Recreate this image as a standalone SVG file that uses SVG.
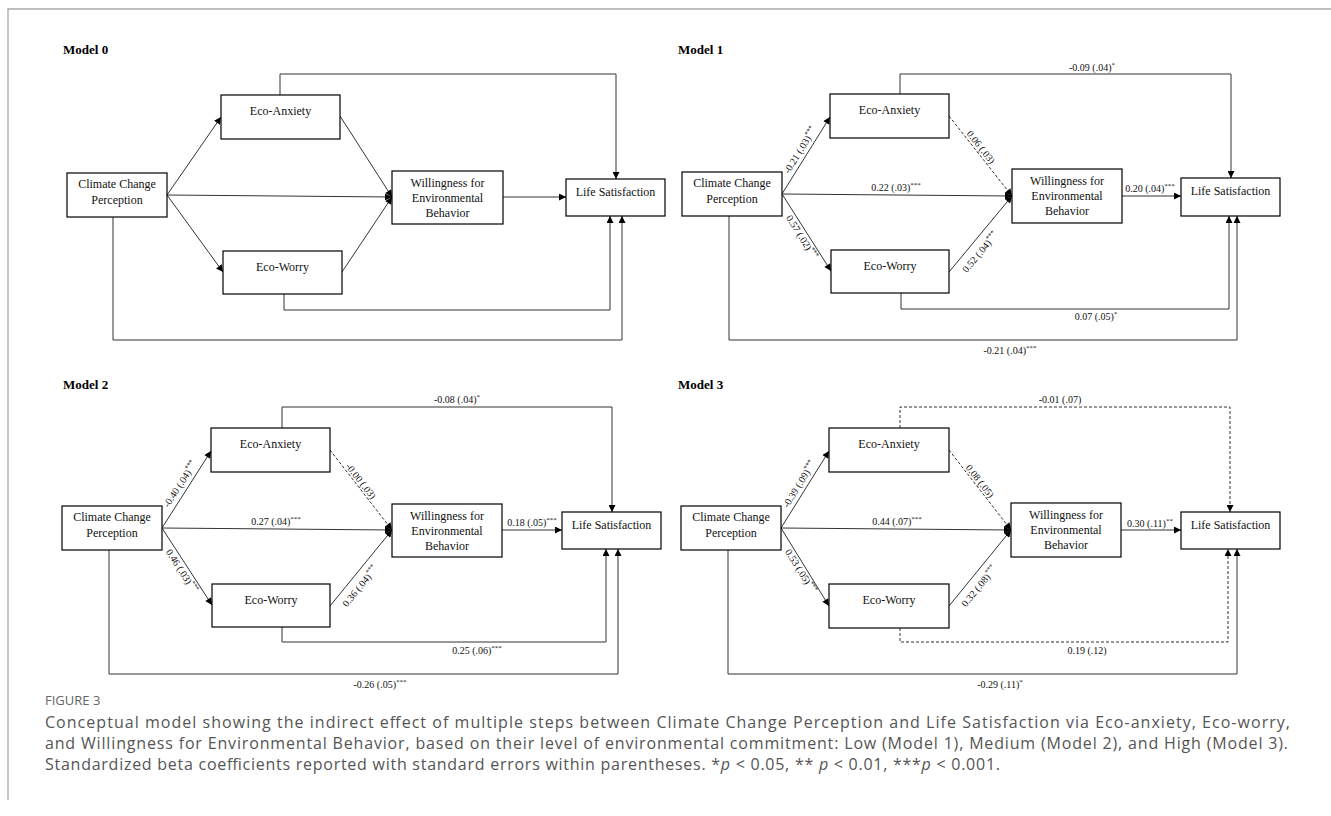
<svg xmlns="http://www.w3.org/2000/svg" width="1331" height="816" viewBox="0 0 1331 816">
<defs>
<marker id="ah" markerUnits="userSpaceOnUse" viewBox="0 0 10 10" refX="10" refY="5" markerWidth="8" markerHeight="7" orient="auto"><path d="M0,0 L10,5 L0,10 z" fill="#000"/></marker>
<style>
.box{fill:#fff;stroke:#000;stroke-width:1.2}
.n{font-family:"Liberation Serif","Times New Roman",serif;font-size:12px;fill:#111;text-anchor:middle}
.e{fill:none;stroke:#333;stroke-width:1}
.a{marker-end:url(#ah)}
.d{stroke-dasharray:3 2}
.l{font-family:"Liberation Serif","Times New Roman",serif;font-size:10px;fill:#111;text-anchor:middle}
.s{font-size:7px}
.t{font-family:"Liberation Serif","Times New Roman",serif;font-size:13px;font-weight:bold;fill:#000}
.cap{font-family:"Open Sans","Noto Sans",sans-serif;font-size:16px;fill:#555}
.fig{font-family:"Open Sans","Noto Sans",sans-serif;font-size:13px;fill:#666}
</style>
</defs>
<rect width="1331" height="816" fill="#fff"/>
<path d="M8,800 V9 H1331" fill="none" stroke="#aaa" stroke-width="1.3"/>

<text class="t" x="63" y="54">Model 0</text>
<text class="t" x="678" y="54">Model 1</text>
<text class="t" x="63" y="389">Model 2</text>
<text class="t" x="678" y="389">Model 3</text>

<g id="connectors">
<!-- Model 0 -->
<path class="e a" d="M167,195 L221,117"/>
<path class="e a" d="M167,195 L223,272"/>
<path class="e a" d="M167,195 L392,197"/>
<path class="e a" d="M340,116 L392,197"/>
<path class="e a" d="M342,272 L392,197"/>
<path class="e a" d="M503,197 L566,197"/>
<path class="e a" d="M280,95 V74 H616 V179"/>
<path class="e a" d="M284,294 V310 H610 V216"/>
<path class="e a" d="M113,217 V340 H622 V216"/>
<!-- Model 1 -->
<path class="e a" d="M782,194 L830,117"/>
<path class="e a" d="M782,194 L831,271"/>
<path class="e a" d="M782,194 L1012,196"/>
<path class="e a d" d="M949,116 L1012,196"/>
<path class="e a" d="M949,272 L1012,196"/>
<path class="e a" d="M1122,196 L1181,196"/>
<path class="e a" d="M900,94 V74 H1231 V178"/>
<path class="e a" d="M901,293 V309 H1229 V216"/>
<path class="e a" d="M729,216 V340 H1237 V216"/>
<!-- Model 2 -->
<path class="e a" d="M162,528 L211,451"/>
<path class="e a" d="M162,528 L212,605"/>
<path class="e a" d="M162,528 L392,530"/>
<path class="e a d" d="M330,450 L392,530"/>
<path class="e a" d="M330,606 L392,530"/>
<path class="e a" d="M502,530 L562,530"/>
<path class="e a" d="M282,428 V407 H612 V512"/>
<path class="e a" d="M282,627 V642 H606 V549"/>
<path class="e a" d="M109,550 V674 H618 V549"/>
<!-- Model 3 -->
<path class="e a" d="M781,528 L829,451"/>
<path class="e a" d="M781,528 L829,606"/>
<path class="e a" d="M781,528 L1011,530"/>
<path class="e a d" d="M949,450 L1011,530"/>
<path class="e a" d="M949,606 L1011,530"/>
<path class="e a" d="M1121,530 L1181,530"/>
<path class="e a d" d="M900,428 V407 H1230 V512"/>
<path class="e a d" d="M900,628 V642 H1228 V549"/>
<path class="e a" d="M728,550 V674 H1237 V549"/>
</g>

<g id="labels">
<!-- Model 1 -->
<text class="l" transform="translate(800,150) rotate(-58)" dy="0.35em">-0.21 (.03)<tspan class="s" dy="-4">***</tspan></text>
<text class="l" transform="translate(981,147) rotate(52)" dy="0.35em">0.06 (.03)</text>
<text class="l" transform="translate(802,237) rotate(58)" dy="0.35em">0.57 (.02)<tspan class="s" dy="-4">***</tspan></text>
<text class="l" transform="translate(980,252) rotate(-50)" dy="0.35em">0.52 (.04)<tspan class="s" dy="-4">***</tspan></text>
<text class="l" x="1092" y="71">-0.09 (.04)<tspan class="s" dy="-4">*</tspan></text>
<text class="l" x="896" y="191">0.22 (.03)<tspan class="s" dy="-4">***</tspan></text>
<text class="l" x="1150" y="192">0.20 (.04)<tspan class="s" dy="-4">***</tspan></text>
<text class="l" x="1096" y="320">0.07 (.05)<tspan class="s" dy="-4">*</tspan></text>
<text class="l" x="1010" y="354">-0.21 (.04)<tspan class="s" dy="-4">***</tspan></text>
<!-- Model 2 -->
<text class="l" transform="translate(180,484) rotate(-57)" dy="0.35em">-0.40 (.04)<tspan class="s" dy="-4">***</tspan></text>
<text class="l" transform="translate(361,481) rotate(52)" dy="0.35em">-0.00 (.03)</text>
<text class="l" transform="translate(182,571) rotate(57)" dy="0.35em">0.46 (.03)<tspan class="s" dy="-4">***</tspan></text>
<text class="l" transform="translate(360,586) rotate(-51)" dy="0.35em">0.36 (.04)<tspan class="s" dy="-4">***</tspan></text>
<text class="l" x="457" y="403">-0.08 (.04)<tspan class="s" dy="-4">*</tspan></text>
<text class="l" x="276" y="525">0.27 (.04)<tspan class="s" dy="-4">***</tspan></text>
<text class="l" x="532" y="526">0.18 (.05)<tspan class="s" dy="-4">***</tspan></text>
<text class="l" x="477" y="654">0.25 (.06)<tspan class="s" dy="-4">***</tspan></text>
<text class="l" x="380" y="688">-0.26 (.05)<tspan class="s" dy="-4">***</tspan></text>
<!-- Model 3 -->
<text class="l" transform="translate(799,484) rotate(-58)" dy="0.35em">-0.39 (.09)<tspan class="s" dy="-4">***</tspan></text>
<text class="l" transform="translate(980,481) rotate(52)" dy="0.35em">0.08 (.05)</text>
<text class="l" transform="translate(801,571) rotate(58)" dy="0.35em">0.53 (.05)<tspan class="s" dy="-4">***</tspan></text>
<text class="l" transform="translate(979,586) rotate(-51)" dy="0.35em">0.32 (.08)<tspan class="s" dy="-4">***</tspan></text>
<text class="l" x="1060" y="403">-0.01 (.07)</text>
<text class="l" x="897" y="525">0.44 (.07)<tspan class="s" dy="-4">***</tspan></text>
<text class="l" x="1150" y="527">0.30 (.11)<tspan class="s" dy="-4">**</tspan></text>
<text class="l" x="1087" y="654">0.19 (.12)</text>
<text class="l" x="1000" y="688">-0.29 (.11)<tspan class="s" dy="-4">*</tspan></text>
</g>

<!-- Model 0 nodes -->
<g id="m0-ccp"><rect class="box" x="67" y="173" width="100" height="44"/><text class="n" x="117" y="188">Climate Change</text><text class="n" x="117" y="204">Perception</text></g>
<g id="m0-ea"><rect class="box" x="221" y="95" width="119" height="44"/><text class="n" x="280.5" y="115">Eco-Anxiety</text></g>
<g id="m0-ew"><rect class="box" x="223" y="251" width="119" height="43"/><text class="n" x="282.5" y="271">Eco-Worry</text></g>
<g id="m0-will"><rect class="box" x="392" y="171" width="111" height="53"/><text class="n" x="447.5" y="187">Willingness for</text><text class="n" x="447.5" y="202">Environmental</text><text class="n" x="447.5" y="217">Behavior</text></g>
<g id="m0-ls"><rect class="box" x="566" y="179" width="99" height="37"/><text class="n" x="615.5" y="196">Life Satisfaction</text></g>

<!-- Model 1 nodes -->
<g id="m1-ccp"><rect class="box" x="682" y="172" width="100" height="44"/><text class="n" x="732" y="187">Climate Change</text><text class="n" x="732" y="203">Perception</text></g>
<g id="m1-ea"><rect class="box" x="830" y="94" width="119" height="44"/><text class="n" x="889.5" y="114">Eco-Anxiety</text></g>
<g id="m1-ew"><rect class="box" x="831" y="250" width="118" height="43"/><text class="n" x="890" y="270">Eco-Worry</text></g>
<g id="m1-will"><rect class="box" x="1012" y="169" width="110" height="54"/><text class="n" x="1067" y="185">Willingness for</text><text class="n" x="1067" y="200">Environmental</text><text class="n" x="1067" y="215">Behavior</text></g>
<g id="m1-ls"><rect class="box" x="1181" y="178" width="99" height="38"/><text class="n" x="1230.5" y="195">Life Satisfaction</text></g>

<!-- Model 2 nodes -->
<g id="m2-ccp"><rect class="box" x="62" y="506" width="100" height="44"/><text class="n" x="112" y="521">Climate Change</text><text class="n" x="112" y="537">Perception</text></g>
<g id="m2-ea"><rect class="box" x="211" y="428" width="119" height="44"/><text class="n" x="270.5" y="448">Eco-Anxiety</text></g>
<g id="m2-ew"><rect class="box" x="212" y="584" width="118" height="43"/><text class="n" x="271" y="604">Eco-Worry</text></g>
<g id="m2-will"><rect class="box" x="392" y="504" width="110" height="53"/><text class="n" x="447" y="520">Willingness for</text><text class="n" x="447" y="535">Environmental</text><text class="n" x="447" y="550">Behavior</text></g>
<g id="m2-ls"><rect class="box" x="562" y="512" width="99" height="37"/><text class="n" x="611.5" y="529">Life Satisfaction</text></g>

<!-- Model 3 nodes -->
<g id="m3-ccp"><rect class="box" x="681" y="506" width="100" height="44"/><text class="n" x="731" y="521">Climate Change</text><text class="n" x="731" y="537">Perception</text></g>
<g id="m3-ea"><rect class="box" x="829" y="428" width="120" height="44"/><text class="n" x="889" y="448">Eco-Anxiety</text></g>
<g id="m3-ew"><rect class="box" x="829" y="584" width="120" height="44"/><text class="n" x="889" y="604">Eco-Worry</text></g>
<g id="m3-will"><rect class="box" x="1011" y="503" width="110" height="54"/><text class="n" x="1066" y="519">Willingness for</text><text class="n" x="1066" y="534">Environmental</text><text class="n" x="1066" y="549">Behavior</text></g>
<g id="m3-ls"><rect class="box" x="1181" y="512" width="99" height="37"/><text class="n" x="1230.5" y="529">Life Satisfaction</text></g>

<g id="caption">
<text class="fig" x="45" y="705">FIGURE 3</text>
<text class="cap" x="45" y="728" textLength="1245" lengthAdjust="spacing">Conceptual model showing the indirect effect of multiple steps between Climate Change Perception and Life Satisfaction via Eco-anxiety, Eco-worry,</text>
<text class="cap" x="45" y="749" textLength="1243" lengthAdjust="spacing">and Willingness for Environmental Behavior, based on their level of environmental commitment: Low (Model 1), Medium (Model 2), and High (Model 3).</text>
<text class="cap" x="45" y="770" textLength="955" lengthAdjust="spacing">Standardized beta coefficients reported with standard errors within parentheses. *<tspan font-style="italic">p</tspan> &lt; 0.05, ** <tspan font-style="italic">p</tspan> &lt; 0.01, ***<tspan font-style="italic">p</tspan> &lt; 0.001.</text>
</g>
</svg>
